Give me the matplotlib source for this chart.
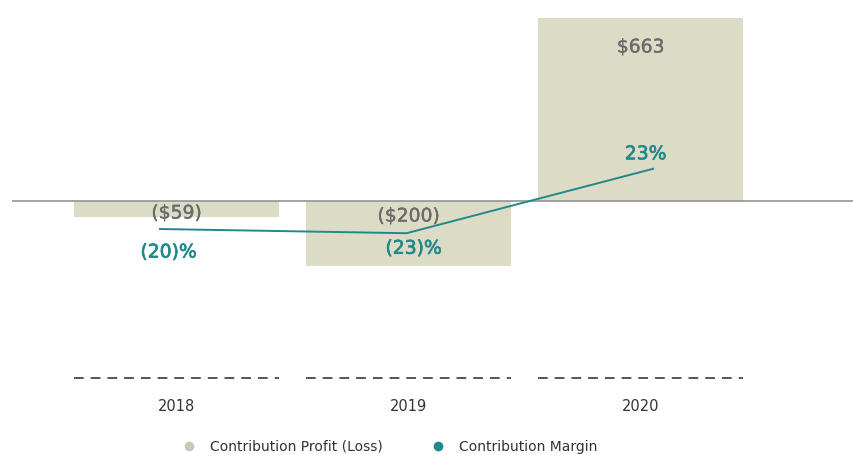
import numpy as np
import matplotlib.pyplot as plt
import matplotlib.patheffects as pe
from matplotlib.lines import Line2D
from matplotlib.transforms import blended_transform_factory

plt.rcParams['font.family'] = ['DejaVu Sans']

years = ["2018", "2019", "2020"]
profit = [-59, -235, 663]
profit_labels = ["($59)", "($200)", "$663"]
margin = [-20, -23, 23]
margin_labels = ["(20)%", "(23)%", "23%"]

bar_color = "#dcdbc6"
teal = "#22898a"
grey_txt = "#6a6a6a"

W, H = 854, 455
fig = plt.figure(figsize=(W / 100, H / 100), dpi=100)

# axes from x=12..854 px, y=10..378 px
left, right, top, bottom = 12, 854, 10, 378
pos = [left / W, 1 - bottom / H, (right - left) / W, (bottom - top) / H]
ax = fig.add_axes(pos)
ax2 = fig.add_axes(pos, frameon=False)

x = np.arange(len(years))

# bars
ax.bar(x, profit, width=0.885, color=bar_color, zorder=1)
ax.axhline(0, color="#8c8c8c", lw=1.1, zorder=2)
ax.set_xlim(-0.709, 2.920)
ax.set_ylim(-641, 692)

grey_fx = [pe.withStroke(linewidth=0.25, foreground=grey_txt)]
for i, (v, lab) in enumerate(zip(profit, profit_labels)):
    if v > 0:
        ax.annotate(lab, (x[i], v), xytext=(0, -29), textcoords="offset pixels",
                    ha="center", va="center", fontsize=13.5, color=grey_txt,
                    path_effects=grey_fx)
    else:
        off = -12 if i == 0 else -15
        ax.annotate(lab, (x[i], 0), xytext=(0, off), textcoords="offset pixels",
                    ha="center", va="center", fontsize=13.5, color=grey_txt,
                    path_effects=grey_fx)

# dashed baseline segments under each category
ybase = ax.get_ylim()[0]
ax.hlines([ybase] * len(x), x - 0.442, x + 0.442, colors="#555555",
          linestyles=(0, (5, 3.6)), lw=1.4, clip_on=False)

ax.set_xticks(x)
ax.set_xticklabels(years, fontsize=10.5, color="#333333")
ax.tick_params(axis="x", length=0, pad=15)
ax.set_yticks([])
for s in ax.spines.values():
    s.set_visible(False)

# margin line on its own axes
ax2.plot(x, margin, color=teal, lw=1.4)
ax2.set_xlim(-0.600, 2.815)
ax2.set_ylim(-126.4, 136.4)
ax2.set_xticks([])
ax2.set_yticks([])

tr = blended_transform_factory(ax.transData, ax2.transData)
teal_fx = [pe.withStroke(linewidth=0.5, foreground=teal)]
offs = [(-8, -23), (5, -15), (5, 15)]
for i, (v, lab) in enumerate(zip(margin, margin_labels)):
    ax2.annotate(lab, (x[i], v), xycoords=tr, xytext=offs[i],
                 textcoords="offset pixels", ha="center", va="center",
                 fontsize=13.5, color=teal, path_effects=teal_fx)

handles = [
    Line2D([], [], marker="o", ls="", color="#c9c8bb", markersize=6),
    Line2D([], [], marker="o", ls="", color=teal, markersize=6),
]
fig.legend(handles, ["Contribution Profit (Loss)", "Contribution Margin"],
           loc="center", bbox_to_anchor=(0.452, 8 / H), ncol=2, frameon=False,
           fontsize=10, handletextpad=0.5, columnspacing=3.0,
           labelcolor="#333333")

fig.savefig("out.png", dpi=100)
